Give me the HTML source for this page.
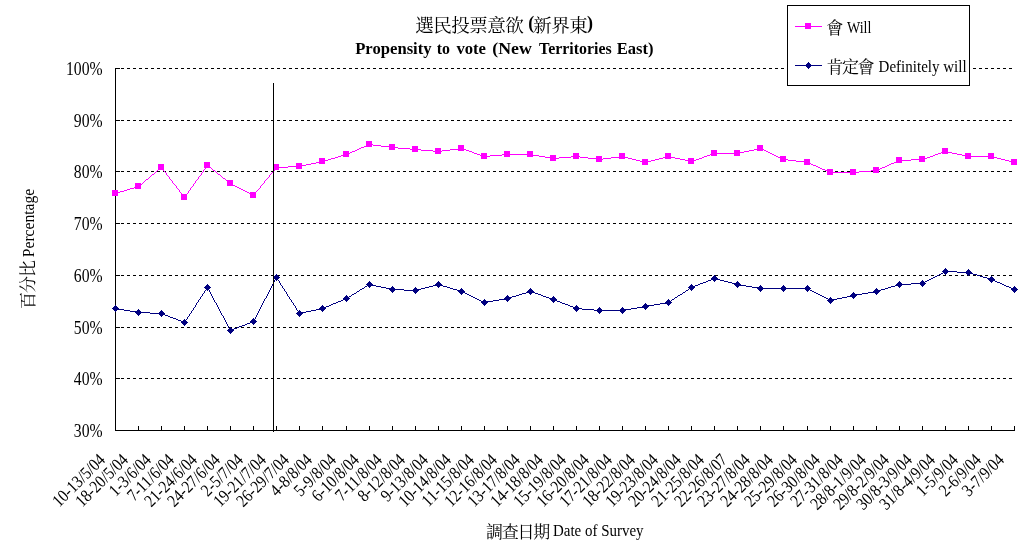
<!DOCTYPE html>
<html><head><meta charset="utf-8"><title>Propensity to vote (New Territories East)</title>
<style>
html,body{margin:0;padding:0;background:#fff;}
body{width:1020px;height:560px;overflow:hidden;}
svg{display:block;will-change:transform;}
text{font-family:"Liberation Serif",serif;fill:#000;}
text.cjk{font-family:"Liberation Serif","Noto Serif CJK SC",serif;}
.b{font-weight:bold;}
</style></head><body>
<svg width="1020" height="560" viewBox="0 0 1020 560">
<rect x="0" y="0" width="1020" height="560" fill="#fff"/>
<g shape-rendering="crispEdges" stroke="#000" stroke-width="1" fill="none">
<line x1="121" y1="378.5" x2="1014" y2="378.5" stroke-dasharray="3 3"/>
<line x1="121" y1="327.5" x2="1014" y2="327.5" stroke-dasharray="3 3"/>
<line x1="121" y1="275.5" x2="1014" y2="275.5" stroke-dasharray="3 3"/>
<line x1="121" y1="223.5" x2="1014" y2="223.5" stroke-dasharray="3 3"/>
<line x1="121" y1="171.5" x2="1014" y2="171.5" stroke-dasharray="3 3"/>
<line x1="121" y1="120.5" x2="1014" y2="120.5" stroke-dasharray="3 3"/>
<line x1="121" y1="68.5" x2="1014" y2="68.5" stroke-dasharray="3 3"/>
<line x1="115.5" y1="68" x2="115.5" y2="431"/>
<line x1="115" y1="430.5" x2="1015" y2="430.5"/>
<line x1="116" y1="430.5" x2="120" y2="430.5"/>
<line x1="116" y1="378.5" x2="120" y2="378.5"/>
<line x1="116" y1="327.5" x2="120" y2="327.5"/>
<line x1="116" y1="275.5" x2="120" y2="275.5"/>
<line x1="116" y1="223.5" x2="120" y2="223.5"/>
<line x1="116" y1="171.5" x2="120" y2="171.5"/>
<line x1="116" y1="120.5" x2="120" y2="120.5"/>
<line x1="116" y1="68.5" x2="120" y2="68.5"/>
<line x1="115.5" y1="426" x2="115.5" y2="430"/>
<line x1="138.5" y1="426" x2="138.5" y2="430"/>
<line x1="161.5" y1="426" x2="161.5" y2="430"/>
<line x1="184.5" y1="426" x2="184.5" y2="430"/>
<line x1="207.5" y1="426" x2="207.5" y2="430"/>
<line x1="230.5" y1="426" x2="230.5" y2="430"/>
<line x1="253.5" y1="426" x2="253.5" y2="430"/>
<line x1="276.5" y1="426" x2="276.5" y2="430"/>
<line x1="299.5" y1="426" x2="299.5" y2="430"/>
<line x1="322.5" y1="426" x2="322.5" y2="430"/>
<line x1="346.5" y1="426" x2="346.5" y2="430"/>
<line x1="369.5" y1="426" x2="369.5" y2="430"/>
<line x1="392.5" y1="426" x2="392.5" y2="430"/>
<line x1="415.5" y1="426" x2="415.5" y2="430"/>
<line x1="438.5" y1="426" x2="438.5" y2="430"/>
<line x1="461.5" y1="426" x2="461.5" y2="430"/>
<line x1="484.5" y1="426" x2="484.5" y2="430"/>
<line x1="507.5" y1="426" x2="507.5" y2="430"/>
<line x1="530.5" y1="426" x2="530.5" y2="430"/>
<line x1="553.5" y1="426" x2="553.5" y2="430"/>
<line x1="576.5" y1="426" x2="576.5" y2="430"/>
<line x1="599.5" y1="426" x2="599.5" y2="430"/>
<line x1="622.5" y1="426" x2="622.5" y2="430"/>
<line x1="645.5" y1="426" x2="645.5" y2="430"/>
<line x1="668.5" y1="426" x2="668.5" y2="430"/>
<line x1="691.5" y1="426" x2="691.5" y2="430"/>
<line x1="714.5" y1="426" x2="714.5" y2="430"/>
<line x1="737.5" y1="426" x2="737.5" y2="430"/>
<line x1="760.5" y1="426" x2="760.5" y2="430"/>
<line x1="783.5" y1="426" x2="783.5" y2="430"/>
<line x1="807.5" y1="426" x2="807.5" y2="430"/>
<line x1="830.5" y1="426" x2="830.5" y2="430"/>
<line x1="853.5" y1="426" x2="853.5" y2="430"/>
<line x1="876.5" y1="426" x2="876.5" y2="430"/>
<line x1="899.5" y1="426" x2="899.5" y2="430"/>
<line x1="922.5" y1="426" x2="922.5" y2="430"/>
<line x1="945.5" y1="426" x2="945.5" y2="430"/>
<line x1="968.5" y1="426" x2="968.5" y2="430"/>
<line x1="991.5" y1="426" x2="991.5" y2="430"/>
<line x1="1014.5" y1="426" x2="1014.5" y2="430"/>
</g>
<path shape-rendering="crispEdges" fill="#ff00ff" d="M368,144h5v1h-5zM366,145h2v1h-2zM373,145h8v1h-8zM364,146h2v1h-2zM381,146h8v1h-8zM361,147h3v1h-3zM389,147h9v1h-9zM359,148h2v1h-2zM398,148h12v1h-12zM458,148h5v1h-5zM758,148h4v1h-4zM357,149h2v1h-2zM410,149h11v1h-11zM450,149h8v1h-8zM463,149h3v1h-3zM754,149h4v1h-4zM762,149h2v1h-2zM355,150h2v1h-2zM421,150h12v1h-12zM442,150h8v1h-8zM466,150h3v1h-3zM749,150h5v1h-5zM764,150h2v1h-2zM352,151h3v1h-3zM433,151h9v1h-9zM469,151h3v1h-3zM744,151h5v1h-5zM766,151h2v1h-2zM944,151h4v1h-4zM350,152h2v1h-2zM472,152h2v1h-2zM740,152h4v1h-4zM768,152h2v1h-2zM941,152h3v1h-3zM948,152h4v1h-4zM348,153h2v1h-2zM474,153h3v1h-3zM713,153h27v1h-27zM770,153h2v1h-2zM938,153h3v1h-3zM952,153h5v1h-5zM345,154h3v1h-3zM477,154h3v1h-3zM502,154h31v1h-31zM710,154h3v1h-3zM772,154h2v1h-2zM935,154h3v1h-3zM957,154h5v1h-5zM341,155h4v1h-4zM480,155h3v1h-3zM490,155h12v1h-12zM533,155h6v1h-6zM707,155h3v1h-3zM774,155h2v1h-2zM933,155h2v1h-2zM962,155h4v1h-4zM338,156h3v1h-3zM483,156h7v1h-7zM539,156h6v1h-6zM571,156h9v1h-9zM619,156h5v1h-5zM667,156h4v1h-4zM704,156h3v1h-3zM776,156h2v1h-2zM930,156h3v1h-3zM966,156h27v1h-27zM335,157h3v1h-3zM545,157h6v1h-6zM559,157h12v1h-12zM580,157h8v1h-8zM611,157h8v1h-8zM624,157h4v1h-4zM663,157h4v1h-4zM671,157h4v1h-4zM702,157h2v1h-2zM778,157h2v1h-2zM927,157h3v1h-3zM993,157h4v1h-4zM331,158h4v1h-4zM551,158h8v1h-8zM588,158h8v1h-8zM603,158h8v1h-8zM628,158h4v1h-4zM659,158h4v1h-4zM675,158h5v1h-5zM699,158h3v1h-3zM780,158h2v1h-2zM924,158h3v1h-3zM997,158h4v1h-4zM328,159h3v1h-3zM596,159h7v1h-7zM632,159h4v1h-4zM655,159h4v1h-4zM680,159h5v1h-5zM696,159h3v1h-3zM782,159h6v1h-6zM911,159h13v1h-13zM1001,159h4v1h-4zM324,160h4v1h-4zM636,160h4v1h-4zM651,160h4v1h-4zM685,160h4v1h-4zM693,160h3v1h-3zM788,160h8v1h-8zM898,160h13v1h-13zM1005,160h4v1h-4zM320,161h4v1h-4zM640,161h4v1h-4zM647,161h4v1h-4zM689,161h4v1h-4zM796,161h8v1h-8zM896,161h2v1h-2zM1009,161h4v1h-4zM316,162h4v1h-4zM644,162h3v1h-3zM804,162h5v1h-5zM894,162h2v1h-2zM1013,162h2v1h-2zM311,163h5v1h-5zM809,163h2v1h-2zM891,163h3v1h-3zM306,164h5v1h-5zM811,164h2v1h-2zM889,164h2v1h-2zM207,165h1v1h-1zM302,165h4v1h-4zM813,165h3v1h-3zM887,165h2v1h-2zM206,166h1v1h-1zM208,166h1v1h-1zM288,166h14v1h-14zM816,166h2v1h-2zM885,166h2v1h-2zM161,167h1v1h-1zM206,167h1v1h-1zM209,167h2v1h-2zM276,167h12v1h-12zM818,167h2v1h-2zM882,167h3v1h-3zM160,168h1v1h-1zM162,168h1v1h-1zM205,168h1v1h-1zM211,168h1v1h-1zM275,168h1v1h-1zM820,168h2v1h-2zM880,168h2v1h-2zM158,169h2v1h-2zM163,169h1v1h-1zM204,169h1v1h-1zM212,169h1v1h-1zM274,169h1v1h-1zM822,169h3v1h-3zM878,169h2v1h-2zM157,170h1v1h-1zM163,170h1v1h-1zM203,170h1v1h-1zM213,170h2v1h-2zM274,170h1v1h-1zM825,170h2v1h-2zM871,170h7v1h-7zM156,171h1v1h-1zM164,171h1v1h-1zM203,171h1v1h-1zM215,171h1v1h-1zM273,171h1v1h-1zM827,171h2v1h-2zM859,171h12v1h-12zM155,172h1v1h-1zM165,172h1v1h-1zM202,172h1v1h-1zM216,172h1v1h-1zM272,172h1v1h-1zM829,172h30v1h-30zM154,173h1v1h-1zM166,173h1v1h-1zM201,173h1v1h-1zM217,173h1v1h-1zM271,173h1v1h-1zM152,174h2v1h-2zM166,174h1v1h-1zM201,174h1v1h-1zM218,174h2v1h-2zM270,174h1v1h-1zM151,175h1v1h-1zM167,175h1v1h-1zM200,175h1v1h-1zM220,175h1v1h-1zM269,175h1v1h-1zM150,176h1v1h-1zM168,176h1v1h-1zM199,176h1v1h-1zM221,176h1v1h-1zM269,176h1v1h-1zM149,177h1v1h-1zM169,177h1v1h-1zM198,177h1v1h-1zM222,177h1v1h-1zM268,177h1v1h-1zM148,178h1v1h-1zM169,178h1v1h-1zM198,178h1v1h-1zM223,178h2v1h-2zM267,178h1v1h-1zM146,179h2v1h-2zM170,179h1v1h-1zM197,179h1v1h-1zM225,179h1v1h-1zM266,179h1v1h-1zM145,180h1v1h-1zM171,180h1v1h-1zM196,180h1v1h-1zM226,180h1v1h-1zM265,180h1v1h-1zM144,181h1v1h-1zM172,181h1v1h-1zM195,181h1v1h-1zM227,181h2v1h-2zM264,181h1v1h-1zM143,182h1v1h-1zM172,182h1v1h-1zM195,182h1v1h-1zM229,182h1v1h-1zM264,182h1v1h-1zM142,183h1v1h-1zM173,183h1v1h-1zM194,183h1v1h-1zM230,183h1v1h-1zM263,183h1v1h-1zM140,184h2v1h-2zM174,184h1v1h-1zM193,184h1v1h-1zM231,184h2v1h-2zM262,184h1v1h-1zM139,185h1v1h-1zM175,185h1v1h-1zM193,185h1v1h-1zM233,185h2v1h-2zM261,185h1v1h-1zM137,186h2v1h-2zM176,186h1v1h-1zM192,186h1v1h-1zM235,186h2v1h-2zM260,186h1v1h-1zM134,187h3v1h-3zM176,187h1v1h-1zM191,187h1v1h-1zM237,187h2v1h-2zM260,187h1v1h-1zM130,188h4v1h-4zM177,188h1v1h-1zM190,188h1v1h-1zM239,188h2v1h-2zM259,188h1v1h-1zM127,189h3v1h-3zM178,189h1v1h-1zM190,189h1v1h-1zM241,189h2v1h-2zM258,189h1v1h-1zM124,190h3v1h-3zM179,190h1v1h-1zM189,190h1v1h-1zM243,190h2v1h-2zM257,190h1v1h-1zM120,191h4v1h-4zM179,191h1v1h-1zM188,191h1v1h-1zM245,191h2v1h-2zM256,191h1v1h-1zM117,192h3v1h-3zM180,192h1v1h-1zM188,192h1v1h-1zM247,192h2v1h-2zM255,192h1v1h-1zM115,193h2v1h-2zM181,193h1v1h-1zM187,193h1v1h-1zM249,193h2v1h-2zM255,193h1v1h-1zM182,194h1v1h-1zM186,194h1v1h-1zM251,194h2v1h-2zM254,194h1v1h-1zM182,195h1v1h-1zM185,195h1v1h-1zM253,195h1v1h-1zM183,196h1v1h-1zM185,196h1v1h-1zM184,197h1v1h-1z"/>
<g shape-rendering="crispEdges" fill="#ff00ff">
<rect x="112" y="190" width="6" height="6"/><rect x="135" y="183" width="6" height="6"/><rect x="158" y="164" width="6" height="6"/><rect x="181" y="194" width="6" height="6"/><rect x="204" y="162" width="6" height="6"/><rect x="227" y="180" width="6" height="6"/><rect x="250" y="192" width="6" height="6"/><rect x="273" y="164" width="6" height="6"/><rect x="296" y="163" width="6" height="6"/><rect x="319" y="158" width="6" height="6"/><rect x="343" y="151" width="6" height="6"/><rect x="366" y="141" width="6" height="6"/><rect x="389" y="144" width="6" height="6"/><rect x="412" y="146" width="6" height="6"/><rect x="435" y="148" width="6" height="6"/><rect x="458" y="145" width="6" height="6"/><rect x="481" y="153" width="6" height="6"/><rect x="504" y="151" width="6" height="6"/><rect x="527" y="151" width="6" height="6"/><rect x="550" y="155" width="6" height="6"/><rect x="573" y="153" width="6" height="6"/><rect x="596" y="156" width="6" height="6"/><rect x="619" y="153" width="6" height="6"/><rect x="642" y="159" width="6" height="6"/><rect x="665" y="153" width="6" height="6"/><rect x="688" y="158" width="6" height="6"/><rect x="711" y="150" width="6" height="6"/><rect x="734" y="150" width="6" height="6"/><rect x="757" y="145" width="6" height="6"/><rect x="780" y="156" width="6" height="6"/><rect x="804" y="159" width="6" height="6"/><rect x="827" y="169" width="6" height="6"/><rect x="850" y="169" width="6" height="6"/><rect x="873" y="167" width="6" height="6"/><rect x="896" y="157" width="6" height="6"/><rect x="919" y="156" width="6" height="6"/><rect x="942" y="148" width="6" height="6"/><rect x="965" y="153" width="6" height="6"/><rect x="988" y="153" width="6" height="6"/><rect x="1011" y="159" width="6" height="6"/>
</g>
<path shape-rendering="crispEdges" fill="#000080" d="M945,271h12v1h-12zM943,272h2v1h-2zM957,272h13v1h-13zM941,273h2v1h-2zM970,273h3v1h-3zM939,274h2v1h-2zM973,274h4v1h-4zM937,275h2v1h-2zM977,275h3v1h-3zM935,276h2v1h-2zM980,276h3v1h-3zM276,277h1v1h-1zM933,277h2v1h-2zM983,277h4v1h-4zM275,278h1v1h-1zM277,278h1v1h-1zM713,278h3v1h-3zM931,278h2v1h-2zM987,278h3v1h-3zM275,279h1v1h-1zM277,279h1v1h-1zM711,279h2v1h-2zM716,279h4v1h-4zM929,279h2v1h-2zM990,279h3v1h-3zM274,280h1v1h-1zM278,280h1v1h-1zM708,280h3v1h-3zM720,280h4v1h-4zM927,280h2v1h-2zM993,280h2v1h-2zM274,281h1v1h-1zM279,281h1v1h-1zM706,281h2v1h-2zM724,281h4v1h-4zM925,281h2v1h-2zM995,281h2v1h-2zM273,282h1v1h-1zM279,282h1v1h-1zM703,282h3v1h-3zM728,282h4v1h-4zM923,282h2v1h-2zM997,282h3v1h-3zM273,283h1v1h-1zM280,283h1v1h-1zM700,283h3v1h-3zM732,283h4v1h-4zM911,283h12v1h-12zM1000,283h2v1h-2zM272,284h1v1h-1zM280,284h1v1h-1zM369,284h3v1h-3zM437,284h3v1h-3zM698,284h2v1h-2zM736,284h4v1h-4zM898,284h13v1h-13zM1002,284h2v1h-2zM272,285h1v1h-1zM281,285h1v1h-1zM367,285h2v1h-2zM372,285h4v1h-4zM433,285h4v1h-4zM440,285h3v1h-3zM695,285h3v1h-3zM740,285h6v1h-6zM895,285h3v1h-3zM1004,285h2v1h-2zM271,286h1v1h-1zM282,286h1v1h-1zM365,286h2v1h-2zM376,286h5v1h-5zM429,286h4v1h-4zM443,286h4v1h-4zM693,286h2v1h-2zM746,286h6v1h-6zM891,286h4v1h-4zM1006,286h3v1h-3zM207,287h1v1h-1zM271,287h1v1h-1zM282,287h1v1h-1zM364,287h1v1h-1zM381,287h5v1h-5zM425,287h4v1h-4zM447,287h3v1h-3zM691,287h2v1h-2zM752,287h6v1h-6zM888,287h3v1h-3zM1009,287h2v1h-2zM206,288h1v1h-1zM208,288h1v1h-1zM270,288h1v1h-1zM283,288h1v1h-1zM362,288h2v1h-2zM386,288h4v1h-4zM421,288h4v1h-4zM450,288h3v1h-3zM689,288h2v1h-2zM758,288h50v1h-50zM885,288h3v1h-3zM1011,288h2v1h-2zM206,289h1v1h-1zM208,289h1v1h-1zM270,289h1v1h-1zM284,289h1v1h-1zM360,289h2v1h-2zM390,289h14v1h-14zM417,289h4v1h-4zM453,289h4v1h-4zM688,289h1v1h-1zM808,289h2v1h-2zM881,289h4v1h-4zM1013,289h2v1h-2zM205,290h1v1h-1zM209,290h1v1h-1zM269,290h1v1h-1zM284,290h1v1h-1zM359,290h1v1h-1zM404,290h13v1h-13zM457,290h3v1h-3zM686,290h2v1h-2zM810,290h2v1h-2zM878,290h3v1h-3zM204,291h1v1h-1zM209,291h1v1h-1zM269,291h1v1h-1zM285,291h1v1h-1zM357,291h2v1h-2zM460,291h3v1h-3zM529,291h3v1h-3zM685,291h1v1h-1zM812,291h2v1h-2zM874,291h4v1h-4zM204,292h1v1h-1zM210,292h1v1h-1zM268,292h1v1h-1zM286,292h1v1h-1zM356,292h1v1h-1zM463,292h2v1h-2zM526,292h3v1h-3zM532,292h3v1h-3zM683,292h2v1h-2zM814,292h2v1h-2zM868,292h6v1h-6zM203,293h1v1h-1zM210,293h1v1h-1zM268,293h1v1h-1zM286,293h1v1h-1zM354,293h2v1h-2zM465,293h2v1h-2zM522,293h4v1h-4zM535,293h3v1h-3zM682,293h1v1h-1zM816,293h2v1h-2zM862,293h6v1h-6zM202,294h1v1h-1zM211,294h1v1h-1zM267,294h1v1h-1zM287,294h1v1h-1zM352,294h2v1h-2zM467,294h2v1h-2zM519,294h3v1h-3zM538,294h3v1h-3zM680,294h2v1h-2zM818,294h2v1h-2zM856,294h6v1h-6zM202,295h1v1h-1zM211,295h1v1h-1zM267,295h1v1h-1zM287,295h1v1h-1zM351,295h1v1h-1zM469,295h2v1h-2zM516,295h3v1h-3zM541,295h2v1h-2zM678,295h2v1h-2zM820,295h2v1h-2zM851,295h5v1h-5zM201,296h1v1h-1zM212,296h1v1h-1zM266,296h1v1h-1zM288,296h1v1h-1zM349,296h2v1h-2zM471,296h2v1h-2zM512,296h4v1h-4zM543,296h3v1h-3zM677,296h1v1h-1zM822,296h2v1h-2zM847,296h4v1h-4zM200,297h1v1h-1zM212,297h1v1h-1zM266,297h1v1h-1zM289,297h1v1h-1zM347,297h2v1h-2zM473,297h2v1h-2zM509,297h3v1h-3zM546,297h3v1h-3zM675,297h2v1h-2zM824,297h2v1h-2zM842,297h5v1h-5zM200,298h1v1h-1zM213,298h1v1h-1zM265,298h1v1h-1zM289,298h1v1h-1zM345,298h2v1h-2zM475,298h2v1h-2zM505,298h4v1h-4zM549,298h3v1h-3zM674,298h1v1h-1zM826,298h2v1h-2zM837,298h5v1h-5zM199,299h1v1h-1zM213,299h1v1h-1zM264,299h1v1h-1zM290,299h1v1h-1zM343,299h2v1h-2zM477,299h2v1h-2zM499,299h6v1h-6zM552,299h3v1h-3zM672,299h2v1h-2zM828,299h2v1h-2zM833,299h4v1h-4zM198,300h1v1h-1zM214,300h1v1h-1zM264,300h1v1h-1zM291,300h1v1h-1zM341,300h2v1h-2zM479,300h2v1h-2zM493,300h6v1h-6zM555,300h2v1h-2zM671,300h1v1h-1zM830,300h3v1h-3zM198,301h1v1h-1zM214,301h1v1h-1zM263,301h1v1h-1zM291,301h1v1h-1zM338,301h3v1h-3zM481,301h2v1h-2zM487,301h6v1h-6zM557,301h3v1h-3zM669,301h2v1h-2zM197,302h1v1h-1zM215,302h1v1h-1zM263,302h1v1h-1zM292,302h1v1h-1zM336,302h2v1h-2zM483,302h4v1h-4zM560,302h2v1h-2zM666,302h3v1h-3zM196,303h1v1h-1zM216,303h1v1h-1zM262,303h1v1h-1zM293,303h1v1h-1zM333,303h3v1h-3zM562,303h3v1h-3zM660,303h6v1h-6zM196,304h1v1h-1zM216,304h1v1h-1zM262,304h1v1h-1zM293,304h1v1h-1zM331,304h2v1h-2zM565,304h3v1h-3zM654,304h6v1h-6zM195,305h1v1h-1zM217,305h1v1h-1zM261,305h1v1h-1zM294,305h1v1h-1zM329,305h2v1h-2zM568,305h2v1h-2zM648,305h6v1h-6zM195,306h1v1h-1zM217,306h1v1h-1zM261,306h1v1h-1zM295,306h1v1h-1zM326,306h3v1h-3zM570,306h3v1h-3zM643,306h5v1h-5zM194,307h1v1h-1zM218,307h1v1h-1zM260,307h1v1h-1zM295,307h1v1h-1zM324,307h2v1h-2zM573,307h2v1h-2zM637,307h6v1h-6zM115,308h3v1h-3zM193,308h1v1h-1zM218,308h1v1h-1zM260,308h1v1h-1zM296,308h1v1h-1zM320,308h4v1h-4zM575,308h7v1h-7zM631,308h6v1h-6zM118,309h6v1h-6zM193,309h1v1h-1zM219,309h1v1h-1zM259,309h1v1h-1zM296,309h1v1h-1zM316,309h4v1h-4zM582,309h12v1h-12zM625,309h6v1h-6zM124,310h6v1h-6zM192,310h1v1h-1zM219,310h1v1h-1zM259,310h1v1h-1zM297,310h1v1h-1zM311,310h5v1h-5zM594,310h31v1h-31zM130,311h6v1h-6zM191,311h1v1h-1zM220,311h1v1h-1zM258,311h1v1h-1zM298,311h1v1h-1zM306,311h5v1h-5zM136,312h14v1h-14zM191,312h1v1h-1zM220,312h1v1h-1zM258,312h1v1h-1zM298,312h1v1h-1zM302,312h4v1h-4zM150,313h13v1h-13zM190,313h1v1h-1zM221,313h1v1h-1zM257,313h1v1h-1zM299,313h3v1h-3zM163,314h2v1h-2zM189,314h1v1h-1zM221,314h1v1h-1zM257,314h1v1h-1zM165,315h3v1h-3zM189,315h1v1h-1zM222,315h1v1h-1zM256,315h1v1h-1zM168,316h2v1h-2zM188,316h1v1h-1zM223,316h1v1h-1zM256,316h1v1h-1zM170,317h3v1h-3zM187,317h1v1h-1zM223,317h1v1h-1zM255,317h1v1h-1zM173,318h3v1h-3zM187,318h1v1h-1zM224,318h1v1h-1zM255,318h1v1h-1zM176,319h2v1h-2zM186,319h1v1h-1zM224,319h1v1h-1zM254,319h1v1h-1zM178,320h3v1h-3zM185,320h1v1h-1zM225,320h1v1h-1zM254,320h1v1h-1zM181,321h2v1h-2zM185,321h1v1h-1zM225,321h1v1h-1zM252,321h2v1h-2zM183,322h2v1h-2zM226,322h1v1h-1zM250,322h2v1h-2zM226,323h1v1h-1zM247,323h3v1h-3zM227,324h1v1h-1zM245,324h2v1h-2zM227,325h1v1h-1zM242,325h3v1h-3zM228,326h1v1h-1zM239,326h3v1h-3zM228,327h1v1h-1zM237,327h2v1h-2zM229,328h1v1h-1zM234,328h3v1h-3zM229,329h1v1h-1zM232,329h2v1h-2zM230,330h2v1h-2z"/>
<g shape-rendering="crispEdges" fill="#000080">
<path d="M115.5,305L119,308.5L115.5,312L112,308.5Z"/><path d="M138.5,309L142,312.5L138.5,316L135,312.5Z"/><path d="M161.5,310L165,313.5L161.5,317L158,313.5Z"/><path d="M184.5,319L188,322.5L184.5,326L181,322.5Z"/><path d="M207.5,284L211,287.5L207.5,291L204,287.5Z"/><path d="M230.5,327L234,330.5L230.5,334L227,330.5Z"/><path d="M253.5,318L257,321.5L253.5,325L250,321.5Z"/><path d="M276.5,274L280,277.5L276.5,281L273,277.5Z"/><path d="M299.5,310L303,313.5L299.5,317L296,313.5Z"/><path d="M322.5,305L326,308.5L322.5,312L319,308.5Z"/><path d="M346.5,295L350,298.5L346.5,302L343,298.5Z"/><path d="M369.5,281L373,284.5L369.5,288L366,284.5Z"/><path d="M392.5,286L396,289.5L392.5,293L389,289.5Z"/><path d="M415.5,287L419,290.5L415.5,294L412,290.5Z"/><path d="M438.5,281L442,284.5L438.5,288L435,284.5Z"/><path d="M461.5,288L465,291.5L461.5,295L458,291.5Z"/><path d="M484.5,299L488,302.5L484.5,306L481,302.5Z"/><path d="M507.5,295L511,298.5L507.5,302L504,298.5Z"/><path d="M530.5,288L534,291.5L530.5,295L527,291.5Z"/><path d="M553.5,296L557,299.5L553.5,303L550,299.5Z"/><path d="M576.5,305L580,308.5L576.5,312L573,308.5Z"/><path d="M599.5,307L603,310.5L599.5,314L596,310.5Z"/><path d="M622.5,307L626,310.5L622.5,314L619,310.5Z"/><path d="M645.5,303L649,306.5L645.5,310L642,306.5Z"/><path d="M668.5,299L672,302.5L668.5,306L665,302.5Z"/><path d="M691.5,284L695,287.5L691.5,291L688,287.5Z"/><path d="M714.5,275L718,278.5L714.5,282L711,278.5Z"/><path d="M737.5,281L741,284.5L737.5,288L734,284.5Z"/><path d="M760.5,285L764,288.5L760.5,292L757,288.5Z"/><path d="M783.5,285L787,288.5L783.5,292L780,288.5Z"/><path d="M807.5,285L811,288.5L807.5,292L804,288.5Z"/><path d="M830.5,297L834,300.5L830.5,304L827,300.5Z"/><path d="M853.5,292L857,295.5L853.5,299L850,295.5Z"/><path d="M876.5,288L880,291.5L876.5,295L873,291.5Z"/><path d="M899.5,281L903,284.5L899.5,288L896,284.5Z"/><path d="M922.5,280L926,283.5L922.5,287L919,283.5Z"/><path d="M945.5,268L949,271.5L945.5,275L942,271.5Z"/><path d="M968.5,269L972,272.5L968.5,276L965,272.5Z"/><path d="M991.5,276L995,279.5L991.5,283L988,279.5Z"/><path d="M1014.5,286L1018,289.5L1014.5,293L1011,289.5Z"/>
</g>
<rect x="273" y="83" width="1" height="349" fill="#000" shape-rendering="crispEdges"/>
<rect x="787.5" y="5.5" width="182" height="80" fill="#fff" stroke="#000" stroke-width="1" shape-rendering="crispEdges"/>
<g shape-rendering="crispEdges"><rect x="795" y="26" width="27" height="1" fill="#ff00ff"/><rect x="805" y="23" width="6" height="6" fill="#ff00ff"/><rect x="795" y="65" width="27" height="1" fill="#000080"/><path d="M808.5,62L812,65.5L808.5,69L805,65.5Z" fill="#000080"/></g>
<text class="cjk" x="826.2" y="34" font-size="17">會</text>
<text class="cjk" x="826.55 842.05 857.55" y="72.9" font-size="17">肯定會</text>
<text transform="translate(847,33) scale(1,1.12)" font-size="15.33" textLength="24.4" lengthAdjust="spacingAndGlyphs">Will</text>
<text transform="translate(878.6,72) scale(1,1.12)" font-size="15.33" textLength="88.0" lengthAdjust="spacingAndGlyphs">Definitely will</text>
<text class="cjk" x="415.2 433.2 451.2 469.2 487.2 505.2" y="32.2" font-size="18.6">選民投票意欲</text>
<text class="cjk" x="533.2 551.2 569.2" y="32.2" font-size="18.6">新界東</text>
<text transform="translate(528.3,29.3) scale(1,1.08)" font-size="18" class="b">(</text>
<text transform="translate(587.0,29.3) scale(1,1.08)" font-size="18" class="b">)</text>
<text transform="translate(355.2,53.8)" font-size="17.33" class="b" textLength="76.4" lengthAdjust="spacingAndGlyphs">Propensity</text>
<text transform="translate(436.7,53.8)" font-size="17.33" class="b" textLength="13.2" lengthAdjust="spacingAndGlyphs">to</text>
<text transform="translate(456.4,53.8)" font-size="17.33" class="b" textLength="29.6" lengthAdjust="spacingAndGlyphs">vote</text>
<text transform="translate(492.3,53.8)" font-size="17.33" class="b" textLength="39.5" lengthAdjust="spacingAndGlyphs">(New</text>
<text transform="translate(539.1,53.8)" font-size="17.33" class="b" textLength="72.6" lengthAdjust="spacingAndGlyphs">Territories</text>
<text transform="translate(616.7,53.8)" font-size="17.33" class="b" textLength="36.8" lengthAdjust="spacingAndGlyphs">East)</text>
<text transform="translate(102.6,437.2) scale(1.025,1.26)" font-size="15.33" text-anchor="end">30%</text>
<text transform="translate(102.6,385.2) scale(1.025,1.26)" font-size="15.33" text-anchor="end">40%</text>
<text transform="translate(102.6,334.2) scale(1.025,1.26)" font-size="15.33" text-anchor="end">50%</text>
<text transform="translate(102.6,282.2) scale(1.025,1.26)" font-size="15.33" text-anchor="end">60%</text>
<text transform="translate(102.6,230.2) scale(1.025,1.26)" font-size="15.33" text-anchor="end">70%</text>
<text transform="translate(102.6,178.2) scale(1.025,1.26)" font-size="15.33" text-anchor="end">80%</text>
<text transform="translate(102.6,127.2) scale(1.025,1.26)" font-size="15.33" text-anchor="end">90%</text>
<text transform="translate(102.6,75.2) scale(1.025,1.26)" font-size="15.33" text-anchor="end">100%</text>
<text transform="translate(106.2,460.8) rotate(-45) scale(0.99,1.15)" font-size="15.33" text-anchor="end">10-13/5/04</text>
<text transform="translate(129.2,460.8) rotate(-45) scale(0.99,1.15)" font-size="15.33" text-anchor="end">18-20/5/04</text>
<text transform="translate(152.2,460.8) rotate(-45) scale(0.99,1.15)" font-size="15.33" text-anchor="end">1-3/6/04</text>
<text transform="translate(175.2,460.8) rotate(-45) scale(0.99,1.15)" font-size="15.33" text-anchor="end">7-11/6/04</text>
<text transform="translate(198.2,460.8) rotate(-45) scale(0.99,1.15)" font-size="15.33" text-anchor="end">21-24/6/04</text>
<text transform="translate(221.2,460.8) rotate(-45) scale(0.99,1.15)" font-size="15.33" text-anchor="end">24-27/6/04</text>
<text transform="translate(244.2,460.8) rotate(-45) scale(0.99,1.15)" font-size="15.33" text-anchor="end">2-5/7/04</text>
<text transform="translate(267.2,460.8) rotate(-45) scale(0.99,1.15)" font-size="15.33" text-anchor="end">19-21/7/04</text>
<text transform="translate(290.2,460.8) rotate(-45) scale(0.99,1.15)" font-size="15.33" text-anchor="end">26-29/7/04</text>
<text transform="translate(313.2,460.8) rotate(-45) scale(0.99,1.15)" font-size="15.33" text-anchor="end">4-8/8/04</text>
<text transform="translate(337.2,460.8) rotate(-45) scale(0.99,1.15)" font-size="15.33" text-anchor="end">5-9/8/04</text>
<text transform="translate(360.2,460.8) rotate(-45) scale(0.99,1.15)" font-size="15.33" text-anchor="end">6-10/8/04</text>
<text transform="translate(383.2,460.8) rotate(-45) scale(0.99,1.15)" font-size="15.33" text-anchor="end">7-11/8/04</text>
<text transform="translate(406.2,460.8) rotate(-45) scale(0.99,1.15)" font-size="15.33" text-anchor="end">8-12/8/04</text>
<text transform="translate(429.2,460.8) rotate(-45) scale(0.99,1.15)" font-size="15.33" text-anchor="end">9-13/8/04</text>
<text transform="translate(452.2,460.8) rotate(-45) scale(0.99,1.15)" font-size="15.33" text-anchor="end">10-14/8/04</text>
<text transform="translate(475.2,460.8) rotate(-45) scale(0.99,1.15)" font-size="15.33" text-anchor="end">11-15/8/04</text>
<text transform="translate(498.2,460.8) rotate(-45) scale(0.99,1.15)" font-size="15.33" text-anchor="end">12-16/8/04</text>
<text transform="translate(521.2,460.8) rotate(-45) scale(0.99,1.15)" font-size="15.33" text-anchor="end">13-17/8/04</text>
<text transform="translate(544.2,460.8) rotate(-45) scale(0.99,1.15)" font-size="15.33" text-anchor="end">14-18/8/04</text>
<text transform="translate(567.2,460.8) rotate(-45) scale(0.99,1.15)" font-size="15.33" text-anchor="end">15-19/8/04</text>
<text transform="translate(590.2,460.8) rotate(-45) scale(0.99,1.15)" font-size="15.33" text-anchor="end">16-20/8/04</text>
<text transform="translate(613.2,460.8) rotate(-45) scale(0.99,1.15)" font-size="15.33" text-anchor="end">17-21/8/04</text>
<text transform="translate(636.2,460.8) rotate(-45) scale(0.99,1.15)" font-size="15.33" text-anchor="end">18-22/8/04</text>
<text transform="translate(659.2,460.8) rotate(-45) scale(0.99,1.15)" font-size="15.33" text-anchor="end">19-23/8/04</text>
<text transform="translate(682.2,460.8) rotate(-45) scale(0.99,1.15)" font-size="15.33" text-anchor="end">20-24/8/04</text>
<text transform="translate(705.2,460.8) rotate(-45) scale(0.99,1.15)" font-size="15.33" text-anchor="end">21-25/8/04</text>
<text transform="translate(728.2,460.8) rotate(-45) scale(0.99,1.15)" font-size="15.33" text-anchor="end">22-26/8/07</text>
<text transform="translate(751.2,460.8) rotate(-45) scale(0.99,1.15)" font-size="15.33" text-anchor="end">23-27/8/04</text>
<text transform="translate(774.2,460.8) rotate(-45) scale(0.99,1.15)" font-size="15.33" text-anchor="end">24-28/8/04</text>
<text transform="translate(798.2,460.8) rotate(-45) scale(0.99,1.15)" font-size="15.33" text-anchor="end">25-29/8/04</text>
<text transform="translate(821.2,460.8) rotate(-45) scale(0.99,1.15)" font-size="15.33" text-anchor="end">26-30/8/04</text>
<text transform="translate(844.2,460.8) rotate(-45) scale(0.99,1.15)" font-size="15.33" text-anchor="end">27-31/8/04</text>
<text transform="translate(867.2,460.8) rotate(-45) scale(0.99,1.15)" font-size="15.33" text-anchor="end">28/8-1/9/04</text>
<text transform="translate(890.2,460.8) rotate(-45) scale(0.99,1.15)" font-size="15.33" text-anchor="end">29/8-2/9/04</text>
<text transform="translate(913.2,460.8) rotate(-45) scale(0.99,1.15)" font-size="15.33" text-anchor="end">30/8-3/9/04</text>
<text transform="translate(936.2,460.8) rotate(-45) scale(0.99,1.15)" font-size="15.33" text-anchor="end">31/8-4/9/04</text>
<text transform="translate(959.2,460.8) rotate(-45) scale(0.99,1.15)" font-size="15.33" text-anchor="end">1-5/9/04</text>
<text transform="translate(982.2,460.8) rotate(-45) scale(0.99,1.15)" font-size="15.33" text-anchor="end">2-6/9/04</text>
<text transform="translate(1005.2,460.8) rotate(-45) scale(0.99,1.15)" font-size="15.33" text-anchor="end">3-7/9/04</text>
<text class="cjk" x="485.9 501.7 517.5 533.3" y="538.2" font-size="17">調查日期</text>
<text transform="translate(553,535.6) scale(1,1.08)" font-size="15.33" textLength="90.5" lengthAdjust="spacingAndGlyphs">Date of Survey</text>
<g transform="translate(33.75,308.5) rotate(-90)"><text class="cjk" x="-0.5 15.5 31.5" y="0.7" font-size="17">百分比</text><text transform="translate(51.3,0) scale(1,1.06)" font-size="15.33" textLength="68.5" lengthAdjust="spacingAndGlyphs">Percentage</text>
</g>
</svg>
</body></html>
